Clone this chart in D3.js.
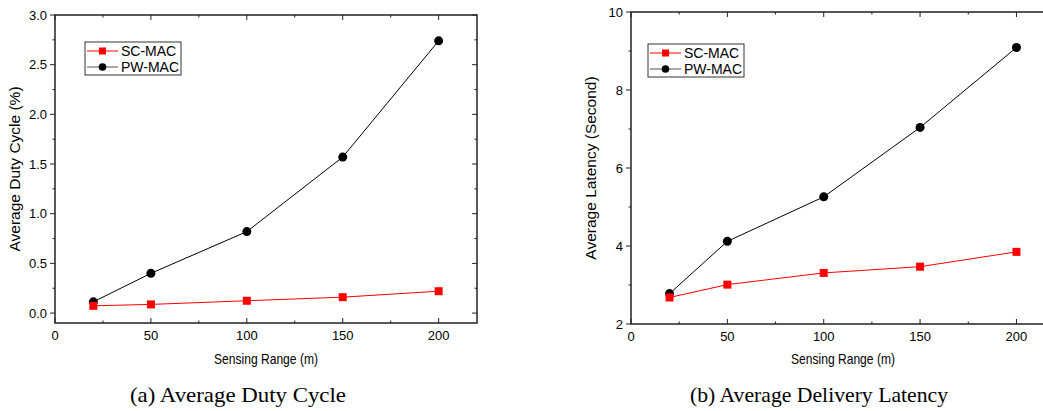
<!DOCTYPE html>
<html>
<head>
<meta charset="utf-8">
<script src="https://cdn.jsdelivr.net/npm/d3@7"></script>
<style>
  body { margin: 0; background: #fff; }
  svg { display: block; }
  text { font-family: "Liberation Sans", Arial, sans-serif; }
</style>
</head>
<body>
<svg id="chart" width="1043" height="411"></svg>
<script>
// sensing range (m)
const ranges = [20, 50, 100, 150, 200];

// (a) duty cycle (%)
const dutySC = [0.073, 0.087, 0.124, 0.16, 0.22];
const dutyPW = [0.113, 0.40, 0.82, 1.57, 2.74];

// (b) latency (s)
const latSC = [2.68, 3.01, 3.31, 3.47, 3.85];
const latPW = [2.78, 4.12, 5.26, 7.04, 9.09];

const xTicks = [0, 50, 100, 150, 200];
const dutyTicks = [0, 0.5, 1.0, 1.5, 2.0, 2.5, 3.0];
const latTicks = [2, 4, 6, 8, 10];

const seriesNames = ["SC-MAC", "PW-MAC"];

const svg = d3.select("#chart");
svg.append("rect").attr("width", 1043).attr("height", 411).attr("fill", "#fff");

function panel(opts) {
  const { left, right, top, bottom, yDomain, yTicks, yMinor, yFmt, sc, pw, yTitle, caption, capX, capW, legX, legY } = opts;

  const x = d3.scaleLinear().domain([0, 220]).range([left, right]);
  const y = d3.scaleLinear().domain(yDomain).range([bottom, top]);
  const g = svg.append("g");

  // frame
  g.append("rect")
    .attr("x", left).attr("y", top)
    .attr("width", right - left).attr("height", bottom - top)
    .attr("fill", "none").attr("stroke", "#222").attr("stroke-width", 1.5);

  // x ticks (inside, bottom & top)
  const xMinor = d3.range(25, 220, 50);
  xTicks.forEach(v => {
    g.append("line").attr("x1", x(v)).attr("x2", x(v)).attr("y1", bottom).attr("y2", bottom - 5).attr("stroke", "#222");
    g.append("line").attr("x1", x(v)).attr("x2", x(v)).attr("y1", top).attr("y2", top + 5).attr("stroke", "#222");
    g.append("text").attr("x", x(v)).attr("y", bottom + 17)
      .attr("text-anchor", "middle").attr("font-size", 13).text(v);
  });
  xMinor.forEach(v => {
    g.append("line").attr("x1", x(v)).attr("x2", x(v)).attr("y1", bottom).attr("y2", bottom - 2.5).attr("stroke", "#222");
    g.append("line").attr("x1", x(v)).attr("x2", x(v)).attr("y1", top).attr("y2", top + 2.5).attr("stroke", "#222");
  });

  // y ticks (outside left, inside right)
  yTicks.forEach(v => {
    g.append("line").attr("x1", left).attr("x2", left - 5).attr("y1", y(v)).attr("y2", y(v)).attr("stroke", "#222");
    g.append("line").attr("x1", right).attr("x2", right - 5).attr("y1", y(v)).attr("y2", y(v)).attr("stroke", "#222");
    g.append("text").attr("x", left - 8).attr("y", y(v) + 4.5)
      .attr("text-anchor", "end").attr("font-size", 13).text(yFmt(v));
  });
  yMinor.forEach(v => {
    g.append("line").attr("x1", left).attr("x2", left - 2.5).attr("y1", y(v)).attr("y2", y(v)).attr("stroke", "#222");
    g.append("line").attr("x1", right).attr("x2", right - 2.5).attr("y1", y(v)).attr("y2", y(v)).attr("stroke", "#222");
  });

  // axis titles
  g.append("text").attr("x", x(110)).attr("y", 364)
    .attr("text-anchor", "middle").attr("font-size", 15)
    .attr("textLength", 104).attr("lengthAdjust", "spacingAndGlyphs")
    .text("Sensing Range (m)");
  g.append("text")
    .attr("transform", `translate(${left - 35},${(top + bottom) / 2}) rotate(-90)`)
    .attr("text-anchor", "middle").attr("font-size", 15.5).text(yTitle);

  // caption
  g.append("text").attr("x", capX).attr("y", 402)
    .attr("text-anchor", "middle").attr("font-size", 21)
    .attr("textLength", capW).attr("lengthAdjust", "spacingAndGlyphs")
    .style("font-family", "'Liberation Serif', 'Times New Roman', serif")
    .text(caption);

  const line = d3.line().x((d, i) => x(ranges[i])).y(d => y(d));

  // PW-MAC
  g.append("path").datum(pw).attr("d", line).attr("fill", "none").attr("stroke", "#000").attr("stroke-width", 1);
  g.selectAll(null).data(pw).enter().append("circle")
    .attr("cx", (d, i) => x(ranges[i])).attr("cy", d => y(d)).attr("r", 4.5).attr("fill", "#000");

  // SC-MAC
  g.append("path").datum(sc).attr("d", line).attr("fill", "none").attr("stroke", "#f00").attr("stroke-width", 1);
  g.selectAll(null).data(sc).enter().append("rect")
    .attr("x", (d, i) => x(ranges[i]) - 4).attr("y", d => y(d) - 4)
    .attr("width", 8).attr("height", 8).attr("fill", "#f00");

  // legend
  const lg = g.append("g").attr("transform", `translate(${legX},${legY})`);
  lg.append("rect").attr("width", 96).attr("height", 33)
    .attr("fill", "#fff").attr("stroke", "#333").attr("stroke-width", 1);
  seriesNames.forEach((name, i) => {
    const yy = 9 + i * 16;
    lg.append("line").attr("x1", 2).attr("x2", 33).attr("y1", yy).attr("y2", yy)
      .attr("stroke", i === 0 ? "#f00" : "#555").attr("stroke-width", 1);
    if (i === 0) {
      lg.append("rect").attr("x", 14).attr("y", yy - 3.5).attr("width", 7).attr("height", 7).attr("fill", "#f00");
    } else {
      lg.append("circle").attr("cx", 17.5).attr("cy", yy).attr("r", 3.8).attr("fill", "#000");
    }
    lg.append("text").attr("x", 36).attr("y", yy + 5).attr("font-size", 14).text(name);
  });
}

panel({
  left: 55, right: 477, top: 15, bottom: 323,
  yDomain: [-0.1, 3.0], yTicks: dutyTicks,
  yMinor: [0.25, 0.75, 1.25, 1.75, 2.25, 2.75],
  yFmt: d3.format(".1f"),
  sc: dutySC, pw: dutyPW,
  yTitle: "Average Duty Cycle (%)",
  caption: "(a)  Average Duty Cycle", capX: 238, capW: 216,
  legX: 85, legY: 42
});

panel({
  left: 631, right: 1055, top: 12, bottom: 324,
  yDomain: [2, 10], yTicks: latTicks,
  yMinor: [3, 5, 7, 9],
  yFmt: d3.format("d"),
  sc: latSC, pw: latPW,
  yTitle: "Average Latency (Second)",
  caption: "(b)  Average Delivery Latency", capX: 819, capW: 258,
  legX: 648, legY: 44
});
</script>
</body>
</html>
